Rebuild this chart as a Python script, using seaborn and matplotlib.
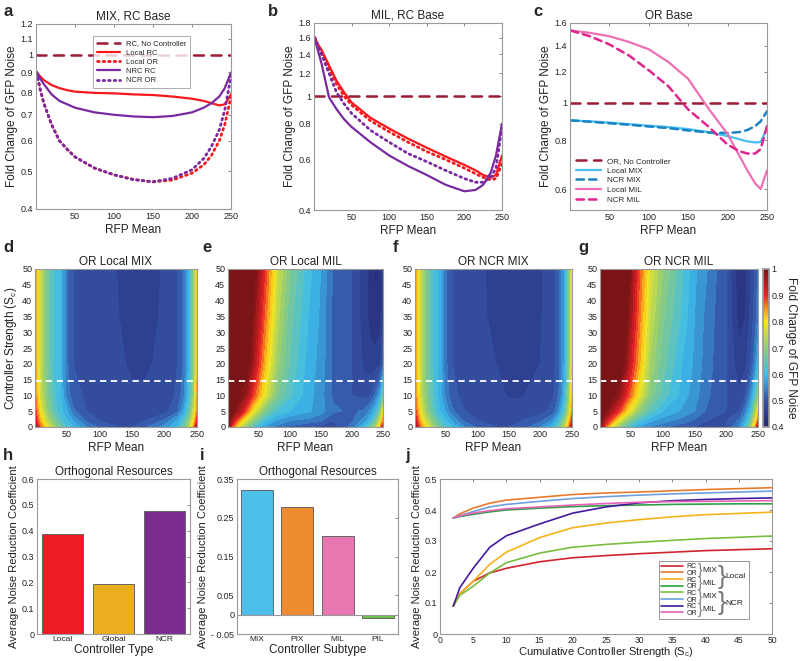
import numpy as np
import seaborn as sns
import matplotlib.pyplot as plt
from matplotlib.colors import LinearSegmentedColormap, Normalize
from matplotlib.patches import Rectangle
from matplotlib.ticker import NullLocator, NullFormatter

# ---------------- data ----------------
# a: MIX, RC base
a_rfp = [1, 5, 10, 20, 30, 40, 50, 75, 100, 125, 150, 175, 200, 215, 225, 235, 242, 250]
a_local_rc = [0.9, 0.88, 0.86, 0.835, 0.82, 0.81, 0.803, 0.797, 0.795, 0.79, 0.787, 0.78, 0.77, 0.76, 0.75, 0.74, 0.745, 0.79]
a_local_or = [0.9, 0.82, 0.75, 0.66, 0.6, 0.57, 0.545, 0.51, 0.49, 0.477, 0.47, 0.475, 0.495, 0.52, 0.55, 0.6, 0.66, 0.78]
a_nrc_rc = [0.9, 0.87, 0.84, 0.79, 0.76, 0.745, 0.73, 0.71, 0.7, 0.693, 0.69, 0.695, 0.71, 0.73, 0.75, 0.78, 0.82, 0.9]
a_ncr_or = [0.9, 0.82, 0.75, 0.66, 0.6, 0.57, 0.545, 0.51, 0.49, 0.476, 0.47, 0.48, 0.505, 0.54, 0.58, 0.64, 0.72, 0.88]

# b: MIL, RC base
b_rfp = [1, 5, 10, 20, 30, 40, 50, 75, 100, 125, 150, 175, 200, 215, 225, 235, 242, 250]
b_local_rc = [1.6, 1.52, 1.45, 1.28, 1.13, 1.03, 0.95, 0.84, 0.77, 0.71, 0.66, 0.615, 0.575, 0.55, 0.53, 0.52, 0.53, 0.62]
b_local_or = [1.6, 1.5, 1.42, 1.24, 1.1, 1.0, 0.93, 0.82, 0.75, 0.69, 0.64, 0.6, 0.56, 0.535, 0.52, 0.51, 0.515, 0.58]
b_nrc_rc = [1.58, 1.45, 1.3, 0.99, 0.9, 0.83, 0.78, 0.69, 0.62, 0.57, 0.53, 0.49, 0.465, 0.47, 0.49, 0.54, 0.62, 0.8]
b_ncr_or = [1.6, 1.5, 1.4, 1.2, 1.03, 0.94, 0.87, 0.76, 0.69, 0.63, 0.59, 0.55, 0.515, 0.5, 0.5, 0.52, 0.56, 0.78]

# c: OR base
c_rfp = [1, 25, 50, 75, 100, 125, 150, 175, 200, 215, 225, 235, 242, 250]
c_local_mix = [0.9, 0.895, 0.888, 0.88, 0.872, 0.865, 0.855, 0.84, 0.82, 0.805, 0.795, 0.79, 0.792, 0.86]
c_ncr_mix = [0.9, 0.893, 0.885, 0.877, 0.868, 0.86, 0.848, 0.838, 0.835, 0.84, 0.85, 0.87, 0.895, 0.95]
c_local_mil = [1.53, 1.51, 1.48, 1.43, 1.37, 1.27, 1.15, 0.97, 0.83, 0.73, 0.67, 0.62, 0.6, 0.67]
c_ncr_mil = [1.53, 1.48, 1.41, 1.32, 1.21, 1.1, 0.96, 0.87, 0.78, 0.75, 0.74, 0.74, 0.76, 0.87]

no_ctrl_x = [0, 250]
no_ctrl_y = [1.0, 1.0]

# d-g: fold change maps, rows = controller strength, cols = RFP mean
map_rfp = [1, 5, 10, 20, 30, 40, 50, 60, 80, 100, 130, 150, 170, 200, 220, 230, 238, 245, 250]
map_sc = [0, 2, 5, 10, 20, 35, 50]
sc_marker = 14.5

d_local_mix = [
    [1.0, 0.92, 0.86, 0.78, 0.72, 0.66, 0.62, 0.6, 0.55, 0.52, 0.5, 0.5, 0.52, 0.56, 0.6, 0.66, 0.74, 0.85, 0.95],
    [0.95, 0.88, 0.82, 0.74, 0.68, 0.63, 0.6, 0.57, 0.52, 0.5, 0.49, 0.49, 0.5, 0.53, 0.58, 0.63, 0.7, 0.8, 0.9],
    [0.9, 0.84, 0.78, 0.7, 0.64, 0.61, 0.58, 0.53, 0.5, 0.49, 0.485, 0.48, 0.48, 0.49, 0.52, 0.58, 0.65, 0.75, 0.85],
    [0.87, 0.81, 0.75, 0.68, 0.63, 0.6, 0.54, 0.51, 0.495, 0.487, 0.482, 0.478, 0.478, 0.485, 0.505, 0.545, 0.61, 0.71, 0.83],
    [0.86, 0.8, 0.74, 0.67, 0.62, 0.6, 0.53, 0.5, 0.49, 0.485, 0.478, 0.472, 0.472, 0.48, 0.5, 0.53, 0.6, 0.7, 0.82],
    [0.86, 0.8, 0.74, 0.67, 0.62, 0.6, 0.53, 0.5, 0.49, 0.482, 0.475, 0.468, 0.468, 0.478, 0.5, 0.53, 0.6, 0.7, 0.82],
    [0.86, 0.8, 0.74, 0.67, 0.62, 0.6, 0.53, 0.5, 0.49, 0.482, 0.474, 0.466, 0.466, 0.477, 0.5, 0.53, 0.6, 0.7, 0.82],
]
e_local_mil = [
    [1.0, 0.92, 0.85, 0.76, 0.7, 0.64, 0.6, 0.57, 0.54, 0.52, 0.5, 0.49, 0.48, 0.54, 0.6, 0.66, 0.72, 0.82, 0.92],
    [1.05, 0.98, 0.92, 0.84, 0.76, 0.7, 0.65, 0.61, 0.57, 0.55, 0.54, 0.53, 0.5, 0.52, 0.56, 0.6, 0.66, 0.75, 0.85],
    [1.15, 1.05, 1.0, 0.95, 0.88, 0.8, 0.74, 0.68, 0.62, 0.6, 0.58, 0.56, 0.53, 0.52, 0.53, 0.56, 0.6, 0.68, 0.78],
    [1.25, 1.15, 1.07, 1.0, 0.97, 0.9, 0.84, 0.78, 0.68, 0.63, 0.585, 0.56, 0.52, 0.5, 0.49, 0.5, 0.53, 0.58, 0.65],
    [1.35, 1.25, 1.17, 1.08, 1.02, 0.97, 0.9, 0.83, 0.71, 0.65, 0.59, 0.565, 0.52, 0.5, 0.47, 0.46, 0.46, 0.47, 0.52],
    [1.45, 1.35, 1.25, 1.15, 1.06, 1.0, 0.94, 0.87, 0.74, 0.66, 0.6, 0.57, 0.52, 0.5, 0.46, 0.44, 0.43, 0.44, 0.47],
    [1.5, 1.4, 1.3, 1.2, 1.1, 1.03, 0.97, 0.9, 0.76, 0.68, 0.61, 0.575, 0.52, 0.5, 0.46, 0.44, 0.42, 0.43, 0.46],
]
f_ncr_mix = [
    [1.0, 0.92, 0.86, 0.78, 0.72, 0.66, 0.62, 0.6, 0.55, 0.52, 0.5, 0.5, 0.51, 0.55, 0.6, 0.66, 0.74, 0.85, 0.95],
    [0.95, 0.88, 0.82, 0.74, 0.68, 0.63, 0.6, 0.57, 0.52, 0.5, 0.49, 0.49, 0.5, 0.52, 0.56, 0.62, 0.69, 0.8, 0.9],
    [0.9, 0.84, 0.78, 0.7, 0.64, 0.6, 0.57, 0.53, 0.5, 0.49, 0.48, 0.48, 0.48, 0.49, 0.51, 0.56, 0.63, 0.74, 0.85],
    [0.87, 0.81, 0.75, 0.68, 0.63, 0.59, 0.54, 0.51, 0.49, 0.483, 0.478, 0.474, 0.474, 0.48, 0.495, 0.53, 0.59, 0.7, 0.82],
    [0.86, 0.8, 0.74, 0.67, 0.62, 0.59, 0.53, 0.5, 0.485, 0.48, 0.475, 0.47, 0.47, 0.475, 0.49, 0.52, 0.58, 0.68, 0.8],
    [0.86, 0.8, 0.74, 0.67, 0.62, 0.59, 0.53, 0.5, 0.485, 0.478, 0.472, 0.466, 0.466, 0.473, 0.49, 0.52, 0.58, 0.68, 0.8],
    [0.86, 0.8, 0.74, 0.67, 0.62, 0.59, 0.53, 0.5, 0.485, 0.478, 0.471, 0.464, 0.464, 0.472, 0.49, 0.52, 0.58, 0.68, 0.8],
]
g_ncr_mil = [
    [1.0, 0.93, 0.86, 0.77, 0.7, 0.65, 0.61, 0.58, 0.55, 0.53, 0.51, 0.5, 0.49, 0.5, 0.55, 0.62, 0.7, 0.82, 0.95],
    [1.05, 0.98, 0.93, 0.86, 0.78, 0.72, 0.67, 0.63, 0.58, 0.56, 0.54, 0.52, 0.5, 0.5, 0.53, 0.58, 0.65, 0.76, 0.87],
    [1.15, 1.06, 1.0, 0.95, 0.9, 0.83, 0.77, 0.71, 0.64, 0.6, 0.57, 0.55, 0.52, 0.5, 0.5, 0.54, 0.6, 0.7, 0.8],
    [1.25, 1.16, 1.08, 1.01, 0.98, 0.92, 0.86, 0.8, 0.69, 0.64, 0.59, 0.56, 0.53, 0.5, 0.48, 0.5, 0.55, 0.62, 0.7],
    [1.35, 1.26, 1.18, 1.1, 1.04, 0.99, 0.92, 0.85, 0.72, 0.66, 0.6, 0.57, 0.535, 0.5, 0.46, 0.47, 0.5, 0.54, 0.6],
    [1.45, 1.35, 1.25, 1.16, 1.08, 1.02, 0.96, 0.88, 0.75, 0.68, 0.62, 0.575, 0.54, 0.5, 0.44, 0.45, 0.48, 0.51, 0.54],
    [1.5, 1.4, 1.3, 1.2, 1.12, 1.06, 0.98, 0.9, 0.77, 0.7, 0.63, 0.58, 0.55, 0.5, 0.43, 0.44, 0.47, 0.5, 0.53],
]

# h: controller type
h_types = ['Local', 'Global', 'NCR']
h_values = [0.388, 0.195, 0.475]

# i: controller subtype
i_types = ['MIX', 'PIX', 'MIL', 'PIL']
i_values = [0.321, 0.277, 0.202, -0.008]

# j: noise reduction vs cumulative controller strength
j_sc = [2, 3, 5, 7.5, 10, 15, 20, 25, 30, 35, 40, 45, 50]
j_local_rc_mix = [0.09, 0.13, 0.17, 0.197, 0.212, 0.233, 0.246, 0.253, 0.259, 0.264, 0.269, 0.272, 0.275]
j_local_or_mix = [0.374, 0.388, 0.406, 0.422, 0.432, 0.441, 0.45, 0.455, 0.458, 0.462, 0.466, 0.469, 0.472]
j_local_rc_mil = [0.09, 0.13, 0.17, 0.225, 0.264, 0.311, 0.343, 0.358, 0.369, 0.378, 0.385, 0.389, 0.393]
j_local_or_mil = [0.374, 0.379, 0.386, 0.394, 0.4, 0.406, 0.411, 0.414, 0.416, 0.418, 0.419, 0.42, 0.42]
j_ncr_rc_mix = [0.09, 0.125, 0.154, 0.197, 0.23, 0.261, 0.28, 0.289, 0.296, 0.302, 0.308, 0.312, 0.316]
j_ncr_or_mix = [0.374, 0.382, 0.395, 0.41, 0.418, 0.428, 0.437, 0.443, 0.448, 0.452, 0.455, 0.458, 0.461]
j_ncr_rc_mil = [0.09, 0.15, 0.212, 0.28, 0.317, 0.355, 0.39, 0.41, 0.423, 0.43, 0.434, 0.437, 0.439]
j_ncr_or_mil = [0.374, 0.381, 0.39, 0.398, 0.404, 0.41, 0.416, 0.421, 0.425, 0.427, 0.428, 0.429, 0.43]

# ---------------- style ----------------
sns.set_theme(style='white')
plt.rcParams['font.family'] = ['Liberation Sans', 'DejaVu Sans']
plt.rcParams['mathtext.fontset'] = 'custom'
plt.rcParams['mathtext.rm'] = 'Liberation Sans'
plt.rcParams['mathtext.it'] = 'Liberation Sans:italic'

RED = '#f5181c'
PURPLE = '#7a2aa0'
DARKRED = '#9c1a33'
LBLUE = '#45c1f1'
DBLUE = '#1b83c4'
PINK = '#ef6fb4'
MAGENTA = '#e0258e'
SPINE = '#9a9a9a'
TXT = '#222222'

fig = plt.figure(figsize=(8, 6.61), dpi=100)


def tidy(ax, fs=6.5):
    ax.tick_params(direction='in', top=True, right=True, length=2.5, width=0.6,
                   labelsize=fs, colors=TXT, pad=2)
    ax.tick_params(axis='both', which='both', color='#777777')
    for s in ax.spines.values():
        s.set_color(SPINE)
        s.set_linewidth(0.8)


def letter(x, y, s):
    fig.text(x / 800, 1 - y / 661, s, fontsize=12, fontweight='bold', va='top', ha='left')


def line(ax, x, y, color, ls='-', label=None, lw=1.6):
    kw = dict(dash_capstyle='round') if ls != '-' else {}
    sns.lineplot(x=x, y=y, ax=ax, color=color, linestyle=ls, linewidth=lw,
                 label=label, estimator=None, sort=False, **kw)


def log_axis(ax, lo, hi, ticks, labels):
    ax.set_yscale('log')
    ax.set_ylim(lo, hi)
    ax.set_yticks(ticks)
    ax.set_yticklabels(labels)
    ax.yaxis.set_minor_locator(NullLocator())
    ax.yaxis.set_minor_formatter(NullFormatter())
    ax.set_xlim(0, 250)
    ax.set_xticks([50, 100, 150, 200, 250])
    ax.set_xlabel('RFP Mean', fontsize=8.5, color=TXT, labelpad=2)
    ax.set_ylabel('Fold Change of GFP Noise', fontsize=8.5, color=TXT, labelpad=2)


DOT = (0, (0.6, 1.4))
DASH = (0, (4, 3))

# ---- a ----
ax = fig.add_axes([36 / 800, 1 - 209 / 661, 195 / 800, 185 / 661])
line(ax, no_ctrl_x, no_ctrl_y, DARKRED, DASH, 'RC, No Controller', 1.8)
line(ax, a_rfp, a_local_rc, RED, '-', 'Local RC')
line(ax, a_rfp, a_local_or, RED, DOT, 'Local OR', 2.0)
line(ax, a_rfp, a_nrc_rc, PURPLE, '-', 'NRC RC')
line(ax, a_rfp, a_ncr_or, PURPLE, DOT, 'NCR OR', 2.0)
log_axis(ax, 0.4, 1.2, [0.4, 0.5, 0.6, 0.7, 0.8, 0.9, 1, 1.1, 1.2],
         ['0.4', '0.5', '0.6', '0.7', '0.8', '0.9', '1', '1.1', '1.2'])
tidy(ax)
ax.set_title('MIX, RC Base', fontsize=8.5, color=TXT, pad=3)
leg = ax.legend(loc='upper right', bbox_to_anchor=(0.81, 0.955), fontsize=5.5,
                handlelength=3, labelspacing=0.25, fancybox=False, edgecolor='#888888',
                borderpad=0.5)
leg.get_frame().set_linewidth(0.6)
letter(3, 4, 'a')

# ---- b ----
ax = fig.add_axes([314 / 800, 1 - 210 / 661, 188 / 800, 187 / 661])
line(ax, no_ctrl_x, no_ctrl_y, DARKRED, DASH, None, 1.8)
line(ax, b_rfp, b_local_rc, RED, '-')
line(ax, b_rfp, b_local_or, RED, DOT, None, 2.0)
line(ax, b_rfp, b_nrc_rc, PURPLE, '-')
line(ax, b_rfp, b_ncr_or, PURPLE, DOT, None, 2.0)
log_axis(ax, 0.4, 1.8, [0.4, 0.6, 0.8, 1, 1.2, 1.4, 1.6, 1.8],
         ['0.4', '0.6', '0.8', '1', '1.2', '1.4', '1.6', '1.8'])
tidy(ax)
ax.set_title('MIL, RC Base', fontsize=8.5, color=TXT, pad=3)
letter(268, 4, 'b')

# ---- c ----
ax = fig.add_axes([570 / 800, 1 - 210 / 661, 197 / 800, 187 / 661])
line(ax, no_ctrl_x, no_ctrl_y, DARKRED, DASH, 'OR, No Controller', 1.8)
line(ax, c_rfp, c_local_mix, LBLUE, '-', 'Local MIX')
line(ax, c_rfp, c_ncr_mix, DBLUE, (0, (3, 2)), 'NCR MIX', 1.8)
line(ax, c_rfp, c_local_mil, PINK, '-', 'Local MIL')
line(ax, c_rfp, c_ncr_mil, MAGENTA, (0, (3, 2)), 'NCR MIL', 1.8)
log_axis(ax, 0.53, 1.6, [0.6, 0.8, 1, 1.2, 1.4, 1.6],
         ['0.6', '0.8', '1', '1.2', '1.4', '1.6'])
tidy(ax)
ax.set_title('OR Base', fontsize=8.5, color=TXT, pad=3)
ax.legend(loc='lower left', fontsize=5.8, handlelength=3, labelspacing=0.25,
          frameon=False, borderpad=0.3)
letter(533, 4, 'c')

# ---- d-g heat maps ----
cmap = LinearSegmentedColormap.from_list('fold', [
    (0.0, '#24276f'), (0.17, '#3552a6'), (0.33, '#3dbcee'), (0.5, '#8fcd78'),
    (0.667, '#fbe61c'), (0.75, '#f7941d'), (0.833, '#ec2227'), (1.0, '#7a1416')])
cmap.set_over('#7a1416')
cmap.set_under('#24276f')
levels = np.linspace(0.4, 1.0, 25)

maps = [(d_local_mix, 'OR Local MIX', 35, 162, 'd', 3),
        (e_local_mil, 'OR Local MIL', 228, 155, 'e', 202),
        (f_ncr_mix, 'OR NCR MIX', 415, 157, 'f', 393),
        (g_ncr_mil, 'OR NCR MIL', 600, 158, 'g', 578)]
for k, (grid, title, x0, w, lab, lx) in enumerate(maps):
    ax = fig.add_axes([x0 / 800, 1 - 427 / 661, w / 800, 158 / 661])
    ax.contourf(map_rfp, map_sc, np.array(grid), levels=levels, cmap=cmap, extend='both')
    ax.axhline(sc_marker, color='white', linestyle=(0, (3.5, 2.5)), linewidth=1.3)
    ax.set_xlim(1, 250)
    ax.set_ylim(0, 50)
    ax.set_xticks([50, 100, 150, 200, 250])
    ax.set_yticks(range(0, 51, 5))
    tidy(ax)
    ax.set_title(title, fontsize=8.5, color=TXT, pad=3)
    ax.set_xlabel('RFP Mean', fontsize=8.5, color=TXT, labelpad=2)
    if k == 0:
        ax.set_ylabel('Controller Strength (S$_\\mathrm{c}$)', fontsize=8.5, color=TXT, labelpad=2)
    letter(lx, 240, lab)

cax = fig.add_axes([763 / 800, 1 - 427 / 661, 6 / 800, 158 / 661])
cb = fig.colorbar(plt.cm.ScalarMappable(norm=Normalize(0.4, 1.0), cmap=cmap), cax=cax,
                  ticks=[0.4, 0.5, 0.6, 0.7, 0.8, 0.9, 1.0])
cb.ax.set_yticklabels(['0.4', '0.5', '0.6', '0.7', '0.8', '0.9', '1'])
cb.ax.tick_params(labelsize=6.5, length=0, colors=TXT, pad=2)
cb.outline.set_edgecolor(SPINE)
cb.set_label('Fold Change of GFP Noise', rotation=270, fontsize=8.5, color=TXT, labelpad=9)

# bottom row shares one band: top at 479 px, bottom at 634 px
ROW3_B = 1 - 634 / 661
ROW3_H = 155 / 661

# ---- h ----
ax = fig.add_axes([37 / 800, ROW3_B, 153 / 800, ROW3_H])
sns.barplot(x=h_types, y=h_values, hue=h_types, palette=['#ed1c24', '#ebae21', '#7b2d8e'],
            saturation=1, ax=ax, width=0.8, edgecolor='#666666', linewidth=0.7, legend=False)
ax.set_xlim(-0.5, 2.5)
ax.set_ylim(0, 0.6)
ax.set_yticks([0, 0.1, 0.2, 0.3, 0.4, 0.5, 0.6])
ax.set_yticklabels(['0', '0.1', '0.2', '0.3', '0.4', '0.5', '0.6'])
tidy(ax)
ax.tick_params(axis='x', top=False, bottom=False, labelsize=6, pad=1.5)
ax.set_title('Orthogonal Resources', fontsize=8.5, color=TXT, pad=3)
ax.set_xlabel('Controller Type', fontsize=8.5, color=TXT, labelpad=0.5)
ax.set_ylabel('Average Noise Reduction Coefficient', fontsize=8, color=TXT, labelpad=2)
letter(3, 448, 'h')

# ---- i ----
ax = fig.add_axes([237 / 800, ROW3_B, 161 / 800, ROW3_H])
sns.barplot(x=i_types, y=i_values, hue=i_types, palette=['#4dbfea', '#ee8a2f', '#e777b0', '#6cc24a'],
            saturation=1, ax=ax, width=0.8, edgecolor='#666666', linewidth=0.7, legend=False)
ax.axhline(0, color='#999999', linewidth=0.8)
ax.set_xlim(-0.5, 3.5)
ax.set_ylim(-0.05, 0.35)
ax.set_yticks([-0.05, 0, 0.05, 0.15, 0.25, 0.35])
ax.set_yticklabels(['- 0.05', '0', '0.05', '0.15', '0.25', '0.35'])
tidy(ax)
ax.tick_params(axis='x', top=False, bottom=False, labelsize=6, pad=1.5)
ax.set_title('Orthogonal Resources', fontsize=8.5, color=TXT, pad=3)
ax.set_xlabel('Controller Subtype', fontsize=8.5, color=TXT, labelpad=0.5)
ax.set_ylabel('Average Noise Reduction Coefficient', fontsize=8, color=TXT, labelpad=2)
letter(200, 448, 'i')

# ---- j ----
ax = fig.add_axes([440 / 800, ROW3_B, 332 / 800, ROW3_H])
j_series = [(j_local_rc_mix, '#d0252e', 'RC'), (j_local_or_mix, '#e87a2c', 'OR'),
            (j_local_rc_mil, '#f4b41a', 'RC'), (j_local_or_mil, '#2f9e48', 'OR'),
            (j_ncr_rc_mix, '#79bd3f', 'RC'), (j_ncr_or_mix, '#6f9fdc', 'OR'),
            (j_ncr_rc_mil, '#44199c', 'RC'), (j_ncr_or_mil, '#e662b6', 'OR')]
for vals, col, lab in j_series:
    line(ax, j_sc, vals, col, '-', lab, 1.2)
ax.set_xlim(0, 50)
ax.set_ylim(0, 0.5)
ax.set_xticks(range(0, 51, 5))
ax.set_yticks([0, 0.1, 0.2, 0.3, 0.4, 0.5])
ax.set_yticklabels(['0', '0.1', '0.2', '0.3', '0.4', '0.5'])
tidy(ax)
ax.tick_params(axis='x', pad=1.5, labelsize=6.2)
ax.set_xlabel('Cumulative Controller Strength (S$_\\mathrm{c}$)', fontsize=8, color=TXT, va='top')
ax.xaxis.set_label_coords(0.5, -0.072)
ax.set_ylabel('Average Noise Reduction Coefficient', fontsize=8, color=TXT, labelpad=2)
leg = ax.legend(loc='lower left', bbox_to_anchor=(0.648, 0.075), fontsize=5, frameon=False,
                handlelength=3.2, handletextpad=0.5, labelspacing=-0.05, borderpad=0.3)
letter(405, 448, 'j')

# braces beside the legend entries
fig.canvas.draw()
rend = fig.canvas.get_renderer()
tb = [t.get_window_extent(rend) for t in leg.get_texts()]
to_ax = ax.transAxes.inverted()
px_pt = 100 / 72
right_edge = 0
brace_col = '#777777'
for g0 in (0, 4):
    sub_right = 0
    for p in (g0, g0 + 2):
        top, bot = tb[p].y1, tb[p + 1].y0
        xr = max(tb[p].x1, tb[p + 1].x1) + 0.5
        yc = (top + bot) / 2
        bx, by = to_ax.transform((xr, yc))
        ax.text(bx, by, '}', fontsize=(top - bot) / px_pt, color=brace_col, va='center',
                ha='left', fontweight='light', transform=ax.transAxes)
        mx, _ = to_ax.transform((xr + 4.5, yc))
        t = ax.text(mx, by, 'MIX' if p % 4 == 0 else 'MIL', fontsize=6, color=TXT,
                    va='center', ha='left', transform=ax.transAxes)
        sub_right = max(sub_right, t.get_window_extent(rend).x1)
    top, bot = tb[g0].y1, tb[g0 + 3].y0
    yc = (top + bot) / 2
    bx, by = to_ax.transform((sub_right + 0.5, yc))
    ax.text(bx, by, '}', fontsize=(top - bot) / px_pt / 1.05, color=brace_col, va='center',
            ha='left', fontweight='light', transform=ax.transAxes)
    mx, _ = to_ax.transform((sub_right + 8, yc))
    t = ax.text(mx, by, 'Local' if g0 == 0 else 'NCR', fontsize=6, color=TXT, va='center',
                ha='left', transform=ax.transAxes)
    right_edge = max(right_edge, t.get_window_extent(rend).x1)

lb = leg.get_window_extent(rend)
x0, y0 = to_ax.transform((lb.x0, lb.y0))
x1, y1 = to_ax.transform((right_edge + 4, lb.y1))
ax.add_patch(Rectangle((x0, y0), x1 - x0, y1 - y0, transform=ax.transAxes, fill=False,
                       edgecolor='#888888', linewidth=0.6, clip_on=False))

fig.savefig('out.png', dpi=100)
